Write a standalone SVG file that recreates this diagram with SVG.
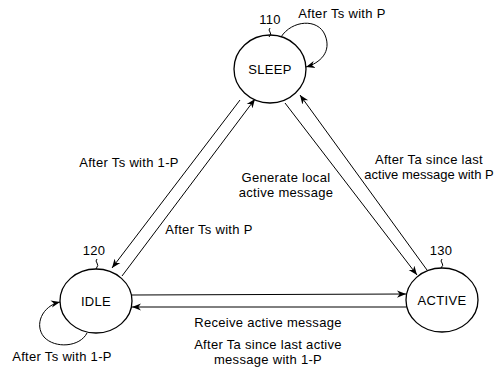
<svg xmlns="http://www.w3.org/2000/svg" width="496" height="368" viewBox="0 0 496 368">
<style>
.n{fill:#fff;stroke:#000;stroke-width:1.3}
.e{fill:none;stroke:#000;stroke-width:1}
text{font-family:"Liberation Sans",Arial,sans-serif;font-size:13px;letter-spacing:0.3px;fill:#000}
.c{text-anchor:middle}
.t{letter-spacing:0}
</style>
<defs>
<marker id="a" viewBox="0 0 10 10" refX="10" refY="5" markerWidth="9" markerHeight="9" markerUnits="userSpaceOnUse" orient="auto">
<path d="M0,1 L10,5 L0,9 L3,5 z" fill="#000"/>
</marker>
</defs>
<rect width="496" height="368" fill="#fff"/>
<g id="connectors">
<path class="e" d="M240,100 L112,268" marker-end="url(#a)"/>
<path class="e" d="M122,276 L255,99" marker-end="url(#a)"/>
<path class="e" d="M285,103 L417,275" marker-end="url(#a)"/>
<path class="e" d="M427,270 L300,95" marker-end="url(#a)"/>
<path class="e" d="M132,295 L406,294" marker-end="url(#a)"/>
<path class="e" d="M406,307 L132,307" marker-end="url(#a)"/>
<path class="e" d="M281,37 C292,20 318,18 325,35 C332,52 320,63 306,67" marker-end="url(#a)"/>
<path class="e" d="M87,333 C80,347 55,349 44,337 C34,325 42,306 60,302" marker-end="url(#a)"/>
</g>
<g id="sleep">
<ellipse class="n" cx="270" cy="69" rx="36" ry="34"/>
<text class="c" x="270" y="74">SLEEP</text>
<text class="c" x="270" y="24">110</text>
<path class="e" d="M270,28 q-2,2 0,4 q2,2 -1,5"/>
</g>
<g id="idle">
<ellipse class="n" cx="96" cy="301" rx="36" ry="32"/>
<text class="c" x="96" y="306">IDLE</text>
<text class="c" x="94" y="255">120</text>
<path class="e" d="M97,259 q-2,2 0,4 q2,2 -1,6"/>
</g>
<g id="active">
<ellipse class="n" cx="442" cy="300" rx="36" ry="32"/>
<text class="c" x="442" y="305">ACTIVE</text>
<text class="c" x="441" y="255">130</text>
<path class="e" d="M442,259 q-2,2 0,4 q2,2 -1,5"/>
</g>
<g id="labels">
<text class="c" x="342" y="18">After Ts with P</text>
<text class="c" x="129" y="167">After Ts with 1-P</text>
<text class="c" x="209" y="234">After Ts with P</text>
<text class="c" x="286" y="182">Generate local</text>
<text class="c" x="286" y="197">active message</text>
<text class="c" x="429" y="164">After Ta since last</text>
<text class="c t" x="429" y="179">active message with P</text>
<text class="c" x="268" y="327">Receive active message</text>
<text class="c" x="268" y="349">After Ta since last active</text>
<text class="c" x="268" y="364">message with 1-P</text>
<text class="c" x="62" y="361">After Ts with 1-P</text>
</g>
</svg>
